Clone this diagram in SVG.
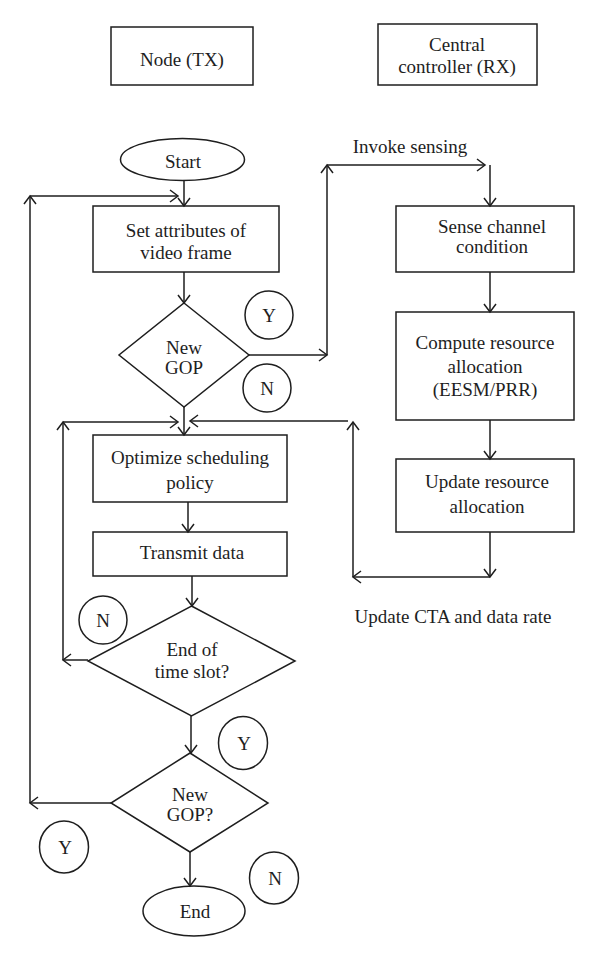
<svg xmlns="http://www.w3.org/2000/svg" width="600" height="961" viewBox="0 0 600 961">
<style>
.s{fill:#fff;stroke:#1e1e1e;stroke-width:1.5}
.t{font-family:"Liberation Serif",serif;font-size:19px;fill:#1e1e1e;text-anchor:middle}
.c line{stroke:#1e1e1e;stroke-width:1.5;marker-end:url(#a)}
</style>
<defs>
<marker id="a" markerUnits="userSpaceOnUse" markerWidth="14" markerHeight="14" viewBox="-10 -7 12 14" refX="0" refY="0" orient="auto">
<path d="M-8,-6 L0,0 L-8,6" fill="none" stroke="#1e1e1e" stroke-width="1.5"/>
</marker>
</defs>
<rect width="600" height="961" fill="#fff"/>
<g id="hdr-tx"><rect class="s" x="111" y="27" width="142" height="58"/><text class="t" x="182" y="66">Node (TX)</text></g>
<g id="hdr-rx"><rect class="s" x="378" y="24" width="159" height="61"/><text class="t" x="457" y="51">Central</text><text class="t" x="457" y="73">controller (RX)</text></g>
<g id="start"><ellipse class="s" cx="182.5" cy="159.5" rx="62" ry="21"/><text class="t" x="183" y="168">Start</text></g>
<g id="setattr"><rect class="s" x="93" y="206" width="186" height="66"/><text class="t" x="186" y="237">Set attributes of</text><text class="t" x="186" y="259">video frame</text></g>
<g id="newgop1"><polygon class="s" points="184,303 249,355 184,407 119,355"/><text class="t" x="184" y="354">New</text><text class="t" x="184" y="374">GOP</text></g>
<g id="y1"><circle class="s" cx="269" cy="315" r="24"/><text class="t" x="269" y="322">Y</text></g>
<g id="n1"><circle class="s" cx="267" cy="388" r="24"/><text class="t" x="267" y="395">N</text></g>
<g id="sense"><rect class="s" x="396" y="206" width="178" height="66"/><text class="t" x="492" y="233">Sense channel</text><text class="t" x="492" y="253">condition</text></g>
<g id="compute"><rect class="s" x="396" y="312" width="178" height="108"/><text class="t" x="485" y="349">Compute resource</text><text class="t" x="485" y="373">allocation</text><text class="t" x="485" y="396">(EESM/PRR)</text></g>
<g id="update"><rect class="s" x="396" y="459" width="178" height="73"/><text class="t" x="487" y="488">Update resource</text><text class="t" x="487" y="513">allocation</text></g>
<g id="optimize"><rect class="s" x="93" y="435" width="194" height="67"/><text class="t" x="190" y="464">Optimize scheduling</text><text class="t" x="190" y="489">policy</text></g>
<g id="transmit"><rect class="s" x="93" y="532" width="194" height="44"/><text class="t" x="192" y="559">Transmit data</text></g>
<g id="endslot"><polygon class="s" points="191.5,606 295,661 191.5,716 88,661"/><text class="t" x="192" y="656">End of</text><text class="t" x="192" y="678">time slot?</text></g>
<g id="n2"><circle class="s" cx="103" cy="620" r="24"/><text class="t" x="103" y="627">N</text></g>
<g id="newgop2"><polygon class="s" points="190,753 268,803 190,852 111,803"/><text class="t" x="190" y="801">New</text><text class="t" x="190" y="821">GOP?</text></g>
<g id="y2"><ellipse class="s" cx="243" cy="743" rx="24.5" ry="26.5"/><text class="t" x="244" y="750">Y</text></g>
<g id="y3"><ellipse class="s" cx="64" cy="847" rx="24.5" ry="26"/><text class="t" x="65" y="854">Y</text></g>
<g id="n3"><ellipse class="s" cx="274" cy="878" rx="24.5" ry="26"/><text class="t" x="275" y="885">N</text></g>
<g id="end"><ellipse class="s" cx="194" cy="911" rx="51" ry="25"/><text class="t" x="195" y="918">End</text></g>
<g id="labels"><text class="t" x="410" y="153">Invoke sensing</text><text class="t" x="453" y="623">Update CTA and data rate</text></g>
<g id="connectors" class="c">
<line x1="184" y1="181" x2="184" y2="206"/>
<line x1="184" y1="272" x2="184" y2="303"/>
<line x1="249" y1="355" x2="327" y2="355"/>
<line x1="327" y1="355" x2="327" y2="165"/>
<line x1="327" y1="165" x2="485" y2="165"/>
<line x1="490" y1="165" x2="490" y2="206"/>
<line x1="184" y1="407" x2="184" y2="435"/>
<line x1="490" y1="272" x2="490" y2="312"/>
<line x1="490" y1="420" x2="490" y2="459"/>
<line x1="490" y1="532" x2="490" y2="577"/>
<line x1="490" y1="577" x2="353" y2="577"/>
<line x1="353" y1="577" x2="353" y2="422"/>
<line x1="348" y1="421" x2="190" y2="421"/>
<line x1="188" y1="502" x2="188" y2="532"/>
<line x1="192" y1="576" x2="192" y2="606"/>
<line x1="88" y1="660" x2="63" y2="660"/>
<line x1="63" y1="660" x2="63" y2="422"/>
<line x1="63" y1="422" x2="178" y2="422"/>
<line x1="191" y1="716" x2="191" y2="753"/>
<line x1="111" y1="803" x2="30" y2="803"/>
<line x1="30" y1="803" x2="30" y2="196"/>
<line x1="30" y1="196" x2="178" y2="196"/>
<line x1="190" y1="852" x2="190" y2="886"/>
</g>
</svg>
